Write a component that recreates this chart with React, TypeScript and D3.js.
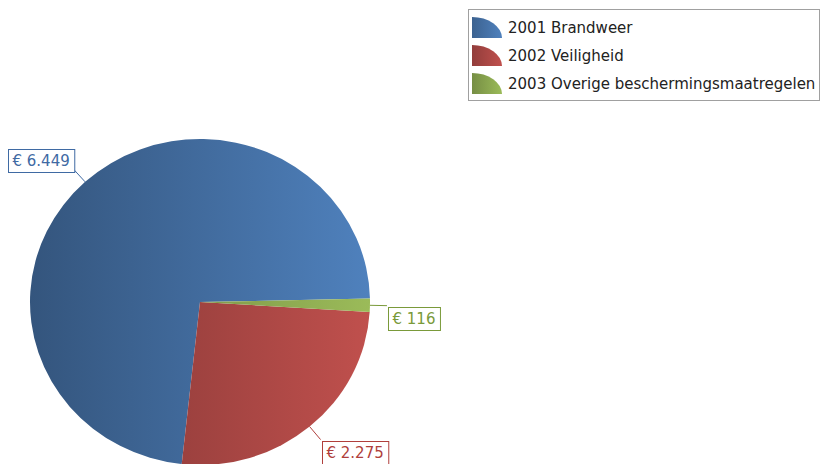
import React, { useEffect, useRef } from "react";
import * as d3 from "d3";

const categories = ["2001 Brandweer", "2002 Veiligheid", "2003 Overige beschermingsmaatregelen"];
const values = [6449, 2275, 116];
const labels = ["€ 6.449", "€ 2.275", "€ 116"];
const colors = ["#4f81bd", "#c0504d", "#9bbb59"];
const textColors = ["#3f6aa3", "#b03f3c", "#7a9a3a"];

const width = 821;
const height = 464;

export default function App() {
  const svgRef = useRef<SVGSVGElement>(null);

  useEffect(() => {
    if (!svgRef.current) return;
    const svg = d3.select(svgRef.current);
    svg.selectAll("*").remove();

    const cx = 200, cy = 302, r = 170, ry = 163;
    const font = "'DejaVu Sans', Verdana, sans-serif";
    const start = (88.8 * Math.PI) / 180;

    const defs = svg.append("defs");
    colors.forEach((c, i) => {
      const base = d3.rgb(c);
      const k = 0.66;
      const left = d3.rgb(base.r * k, base.g * k, base.b * k);
      const g = defs.append("linearGradient")
        .attr("id", "pg" + i)
        .attr("gradientUnits", "userSpaceOnUse")
        .attr("x1", -r).attr("x2", r).attr("y1", 0).attr("y2", 0);
      g.append("stop").attr("offset", "0%").attr("stop-color", left.formatHex());
      g.append("stop").attr("offset", "100%").attr("stop-color", c);
      const lg = defs.append("linearGradient")
        .attr("id", "lg" + i)
        .attr("x1", "0%").attr("x2", "100%").attr("y1", "0%").attr("y2", "0%");
      lg.append("stop").attr("offset", "0%").attr("stop-color", d3.interpolateRgb(left, c)(0.3));
      lg.append("stop").attr("offset", "100%").attr("stop-color", c);
    });

    const pie = d3.pie<number>().sort(null).startAngle(start).endAngle(start - 2 * Math.PI);
    const arcs = pie(values);
    const arc = d3.arc<d3.PieArcDatum<number>>().innerRadius(0).outerRadius(r);

    svg.append("g")
      .attr("transform", `translate(${cx},${cy}) scale(1,${ry / r})`)
      .selectAll("path")
      .data(arcs)
      .join("path")
      .attr("d", arc)
      .attr("fill", (d, i) => `url(#pg${i})`);

    // value labels with link lines
    const linkLen = 17;
    arcs.forEach((a, i) => {
      const m = (a.startAngle + a.endAngle) / 2;
      const dx = Math.sin(m), dy = -Math.cos(m);
      const px = cx + r * dx, py = cy + ry * dy;
      const ex = px + dx * linkLen, ey = py + dy * linkLen;
      svg.append("line")
        .attr("x1", px).attr("y1", py).attr("x2", ex).attr("y2", ey)
        .attr("stroke", textColors[i]).attr("stroke-width", 1);
      const g = svg.append("g");
      const rect = g.append("rect").attr("fill", "white").attr("stroke", textColors[i]);
      const t = g.append("text")
        .attr("font-family", font).attr("font-size", 15)
        .attr("fill", textColors[i])
        .text(labels[i]);
      const w = (t.node() as SVGTextElement).getComputedTextLength() + 9;
      const h = 23;
      const bx = dx < 0 ? ex - w + 1 : ex + 1;
      const by = dy < -0.3 ? ey - h + 3 : ey + 1;
      rect.attr("x", Math.round(bx) + 0.5).attr("y", Math.round(by) + 0.5).attr("width", w).attr("height", h);
      t.attr("x", Math.round(bx) + 4.5).attr("y", Math.round(by) + 17);
    });

    // legend
    const lx = 468, ly = 9, lw = 351, lh = 91;
    svg.append("rect")
      .attr("x", lx + 0.5).attr("y", ly + 0.5).attr("width", lw).attr("height", lh)
      .attr("fill", "white").attr("stroke", "#a0a0a0");
    const rowY = d3.scalePoint<string>().domain(categories).range([ly + 18, ly + 74]);
    categories.forEach((c, i) => {
      const y = rowY(c)!;
      const iw = 30, ih = 21;
      const x0 = lx + 4, y0 = y - 10;
      svg.append("path")
        .attr("d", `M${x0},${y0 + ih}L${x0},${y0}A${iw},${ih} 0 0 1 ${x0 + iw},${y0 + ih}Z`)
        .attr("fill", `url(#lg${i})`);
      svg.append("text")
        .attr("x", lx + 40).attr("y", y + 5.5)
        .attr("font-family", font).attr("font-size", 15)
        .attr("fill", "#222")
        .text(c);
    });
  }, []);

  return (
    <svg
      ref={svgRef}
      width={width}
      height={height}
      style={{ position: "absolute", left: 0, top: 0, background: "white" }}
    />
  );
}
